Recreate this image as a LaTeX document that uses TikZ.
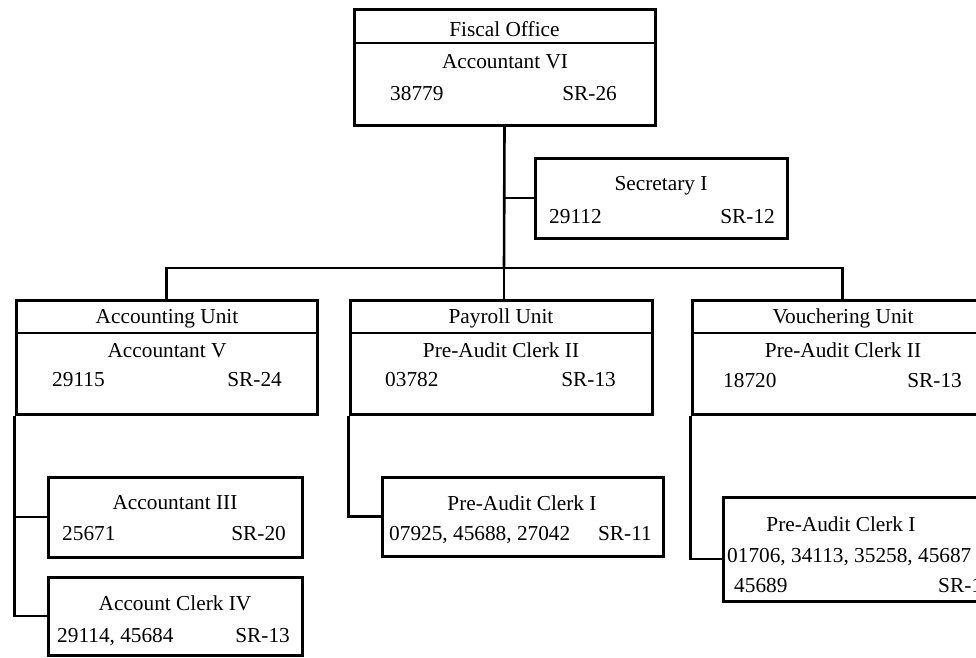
\documentclass[tikz,border=0pt]{standalone}
\usepackage{fontspec}
\setmainfont{Liberation Serif}
\usetikzlibrary{positioning,calc}

\begin{document}
\begin{tikzpicture}[x=1pt,y=-1pt,
    box/.style={draw,line width=3pt,inner sep=0pt},
    link/.style={line width=2.6pt},
    lbl/.style={inner sep=0pt,anchor=base,font=\fontsize{21.3}{24}\selectfont},
    lft/.style={lbl,anchor=base west},
    rgt/.style={lbl,anchor=base east}]
    \useasboundingbox (0,0) rectangle (976,657);
    \clip (0,0) rectangle (976,657);
    \fill[white] (0,0) rectangle (976,657);

    % Fiscal Office
    \node[box,minimum width=301pt,minimum height=116pt] (office) at (504.5,67) {};
    \draw[link] (office.west |- 0,43) -- (office.east |- 0,43);
    \node[lbl] (office-head) at (504.5,36) {Fiscal Office};
    \node[lbl] (office-job) at (505,68) {Accountant VI};
    \node[lft] (office-no) at (390,100) {38779};
    \node[rgt] (office-sr) at (617,100) {SR-26};

    % Secretary
    \node[box,minimum width=252pt,minimum height=80pt] (sec) at (661,198) {};
    \node[lbl] (sec-job) at (661,190) {Secretary I};
    \node[lft] (sec-no) at (549,223) {29112};
    \node[rgt] (sec-sr) at (775,223) {SR-12};

    % Units
    \node[box,minimum width=301pt,minimum height=114pt] (acc) at (166.5,357) {};
    \draw[link] (acc.west |- 0,333) -- (acc.east |- 0,333);
    \node[lbl] (acc-head) at (167,323) {Accounting Unit};
    \node[lbl] (acc-job) at (167,357) {Accountant V};
    \node[lft] (acc-no) at (52,386) {29115};
    \node[rgt] (acc-sr) at (282,386) {SR-24};

    \node[box,minimum width=302pt,minimum height=114pt] (pay) at (501,357) {};
    \draw[link] (pay.west |- 0,333) -- (pay.east |- 0,333);
    \node[lbl] (pay-head) at (501,323) {Payroll Unit};
    \node[lbl] (pay-job) at (501,357) {Pre-Audit Clerk II};
    \node[lft] (pay-no) at (385,386) {03782};
    \node[rgt] (pay-sr) at (616,386) {SR-13};

    \node[box,minimum width=301pt,minimum height=114pt] (vou) at (842.5,357) {};
    \draw[link] (vou.west |- 0,333) -- (vou.east |- 0,333);
    \node[lbl] (vou-head) at (843,323) {Vouchering Unit};
    \node[lbl] (vou-job) at (843,357) {Pre-Audit Clerk II};
    \node[lft] (vou-no) at (723,387) {18720};
    \node[rgt] (vou-sr) at (962,387) {SR-13};

    % Staff
    \node[box,minimum width=254pt,minimum height=80pt] (acc3) at (175,517) {};
    \node[lbl] (acc3-job) at (175,509) {Accountant III};
    \node[lft] (acc3-no) at (62,540) {25671};
    \node[rgt] (acc3-sr) at (286,540) {SR-20};

    \node[box,minimum width=254pt,minimum height=78pt] (clerk4) at (175,616) {};
    \node[lbl] (clerk4-job) at (175,610) {Account Clerk IV};
    \node[lft] (clerk4-no) at (57,642) {29114, 45684};
    \node[rgt] (clerk4-sr) at (290,642) {SR-13};

    \node[box,minimum width=281pt,minimum height=79pt] (pac1) at (522.5,516.5) {};
    \node[lbl] (pac1-job) at (522,510) {Pre-Audit Clerk I};
    \node[lft] (pac1-no) at (389,540) {07925, 45688, 27042};
    \node[rgt] (pac1-sr) at (652,540) {SR-11};

    \node[box,minimum width=267pt,minimum height=104pt] (vac1) at (856.5,549) {};
    \node[lbl] (vac1-job) at (841,531) {Pre-Audit Clerk I};
    \node[lft] (vac1-no) at (727,562) {01706, 34113, 35258, 45687};
    \node[lft] (vac1-no2) at (734,592) {45689};
    \node[lft] (vac1-sr) at (938,592) {SR-11};

    % Lignes
    \coordinate (split) at (504,268);
    \draw[link] (office.south) -- (split);
    \draw[link] (office.south |- sec.west) -- (sec.west);
    \draw[link] (acc.north) |- (split) -| (vou.north);
    \draw[link] (split) -- (split |- pay.north);
    \draw[link] (acc.south west) |- (clerk4.west);
    \draw[link] (acc.south west |- acc3.west) -- (acc3.west);
    \draw[link] (pay.south west) |- (pac1.west);
    \draw[link] (vou.south west) |- ([yshift=-10pt]vac1.west);
\end{tikzpicture}
\end{document}
